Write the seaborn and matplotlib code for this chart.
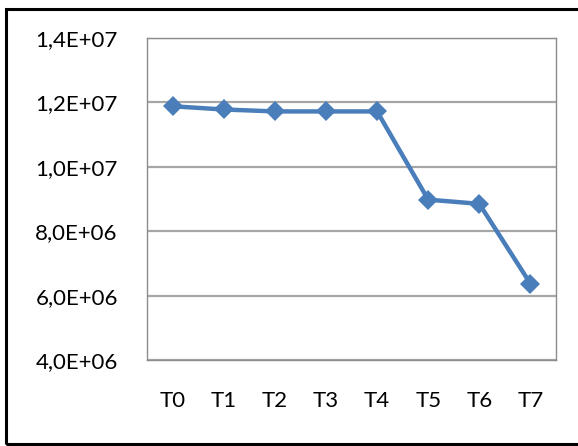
import matplotlib
matplotlib.use("Agg")
import matplotlib.pyplot as plt
from matplotlib.patches import Rectangle
from matplotlib.ticker import FuncFormatter, MultipleLocator
import seaborn as sns
import pandas as pd

# Series data
stages = ["T0", "T1", "T2", "T3", "T4", "T5", "T6", "T7"]
values = [1.188e7, 1.178e7, 1.172e7, 1.172e7, 1.172e7, 8.98e6, 8.85e6, 6.37e6]

df = pd.DataFrame({"stage": stages, "value": values})

sns.set_style("white")
plt.rcParams["font.family"] = ["Lato", "DejaVu Sans"]

fig = plt.figure(figsize=(5.78, 4.46), dpi=100)
ax = fig.add_axes([147 / 578, 1 - 360 / 446, (556 - 147) / 578, (360 - 38) / 446])

sns.lineplot(data=df, x="stage", y="value", ax=ax, color="#4a7ebb",
             linewidth=3.2, marker="D", markersize=10, markeredgewidth=0,
             sort=False)

ax.set_xlim(-0.5, len(stages) - 0.5)
ax.set_ylim(4.0e6, 1.4e7)
ax.yaxis.set_major_locator(MultipleLocator(2.0e6))


def sci_comma(v, pos):
    s = f"{v:.1E}"
    return s.replace(".", ",")


ax.yaxis.set_major_formatter(FuncFormatter(sci_comma))
ax.grid(axis="y", color="#a6a6a6", linewidth=1.6)
ax.set_axisbelow(True)
ax.set_xlabel("")
ax.set_ylabel("")
ax.tick_params(axis="both", length=0, labelsize=16, colors="#000000")
ax.tick_params(axis="y", pad=21)
ax.tick_params(axis="x", pad=22)

for side in ["left", "bottom", "right", "top"]:
    ax.spines[side].set_visible(True)
    ax.spines[side].set_color("#8c8c8c")
    ax.spines[side].set_linewidth(1.0)

# Outer frame around the chart area
fig.patches.append(Rectangle((5.5 / 578, 2.5 / 446), 1.0, (443.5 - 9) / 446,
                             transform=fig.transFigure, fill=False,
                             edgecolor="#000000", linewidth=2.2))

fig.savefig("out.png", dpi=100)
